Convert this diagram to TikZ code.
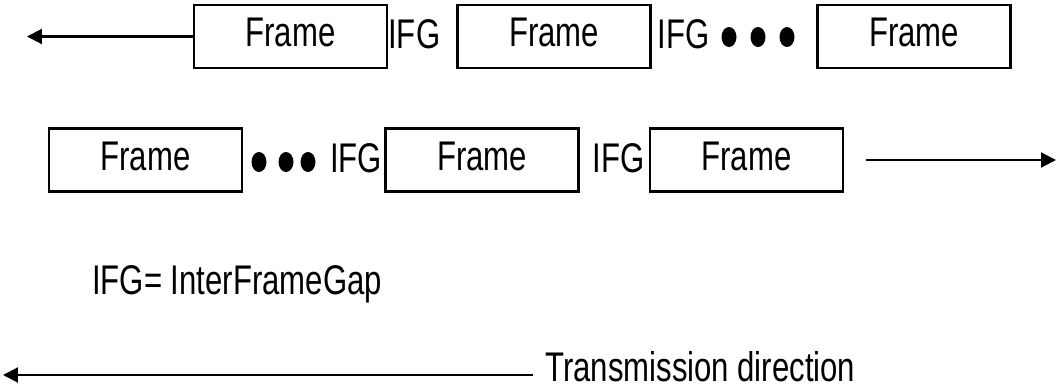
\documentclass[tikz,border=0pt]{standalone}
\usepackage{fontspec}
\setmainfont{Liberation Sans}[FakeStretch=0.75]
\usetikzlibrary{arrows.meta,shapes.geometric,positioning}

\begin{document}
\begin{tikzpicture}
[x=0.02cm,y=-0.02cm,>={Triangle[length=0.3cm,width=0.3cm]},
 lab/.style = {font=\fontsize{23.6}{28}\selectfont, inner sep = 0pt},
 frame/.style = {lab, draw, line width=1.2pt, minimum width=3.86cm, minimum height=1.26cm, text depth=0.16cm},
 gap/.style = {lab, anchor=base west},
 dot/.style = {ellipse, fill = black, inner sep = 0pt, minimum width=0.3cm, minimum height=0.4cm},]
\useasboundingbox (0,0) rectangle (1059,389);
% upper row
\node (F1) at (290.5,36.5)[frame] {Frame};
\node (F2) at (554,36.5)[frame] {Frame};
\node (F3) at (914,36.5)[frame] {Frame};
\node (G1) at (388,48)[gap] {IFG};
\node (G2) at (657,48)[gap] {IFG};
\node (D1) at (729,37)[dot] {};
\node (D2) at (758,37)[dot] {};
\node (D3) at (787,37)[dot] {};
\coordinate (L) at (27,36.5);
\draw[->,line width=1.2pt] (F1.west)--(L);
% lower row
\node (F4) at (145.5,160)[frame] {Frame};
\node (F5) at (482,160)[frame] {Frame};
\node (F6) at (746.5,160)[frame] {Frame};
\node (D4) at (259,162)[dot] {};
\node (D5) at (286,162)[dot] {};
\node (D6) at (308,162)[dot] {};
\node (G3) at (330,172)[gap] {IFG};
\node (G4) at (592,172)[gap] {IFG};
\coordinate (A) at (866,160);
\coordinate (B) at (1056,160);
\draw[->,line width=1.2pt] (A)--(B);
% key
\node (K) at (92,294)[gap] {IFG= InterFrameGap};
\node (T) at (545,381)[gap] {Transmission direction};
\coordinate (C) at (533,375);
\coordinate (E) at (3,375);
\draw[->,line width=1.2pt] (C)--(E);
\end{tikzpicture}
\end{document}
